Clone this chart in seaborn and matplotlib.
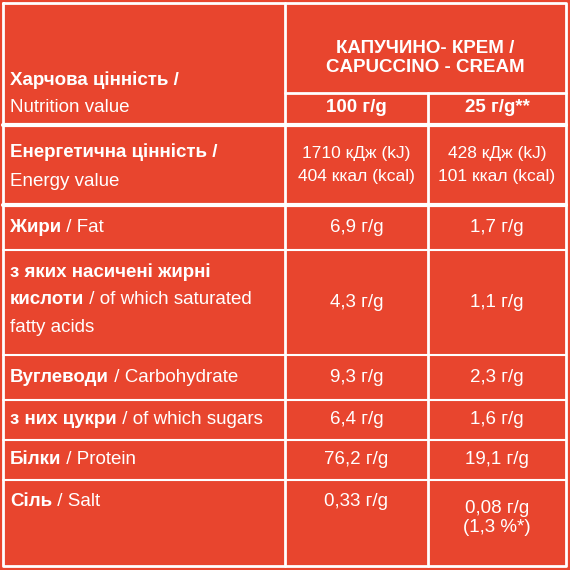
import matplotlib
matplotlib.use("Agg")
import matplotlib.pyplot as plt
import seaborn as sns

sns.set_theme(style="white")
plt.rcParams['font.family'] = ['Liberation Sans Narrow', 'Liberation Sans', 'DejaVu Sans']

product_title = ["КАПУЧИНО- КРЕМ /", "CAPUCCINO - CREAM"]
col_headers = ["100 г/g", "25 г/g**"]
header_label = ("Харчова цінність /", "Nutrition value")
row_bold = ["Енергетична цінність /", "Жири", "з яких насичені жирні\nкислоти", "Вуглеводи", "з них цукри", "Білки", "Сіль"]
row_plain = ["Energy value", " / Fat", " / of which saturated\nfatty acids", " / Carbohydrate", " / of which sugars", " / Protein", " / Salt"]
per100 = ["1710 кДж (kJ)\n404 ккал (kcal)", "6,9 г/g", "4,3 г/g", "9,3 г/g", "6,4 г/g", "76,2 г/g", "0,33 г/g"]
per25 = ["428 кДж (kJ)\n101 ккал (kcal)", "1,7 г/g", "1,1 г/g", "2,3 г/g", "1,6 г/g", "19,1 г/g", "0,08 г/g\n(1,3 %*)"]

red = "#E8452E"
fig = plt.figure(figsize=(5.7, 5.7), dpi=100)
fig.patch.set_facecolor(red)
ax = fig.add_axes([0, 0, 1, 1])
ax.set_facecolor(red)
ax.set_xlim(0, 570); ax.set_ylim(570, 0); ax.axis('off')

W = 'white'
x0, x1, x2, x3 = 3, 285, 428, 566
rows = [125, 205, 250, 355, 400, 440, 480, 566]
ax.plot([x0, x3, x3, x0, x0], [3, 3, 566, 566, 3], color=W, lw=2)
ax.plot([x1, x1], [3, 566], color=W, lw=2)
ax.plot([x2, x2], [93, 566], color=W, lw=2)
ax.plot([x1, x3], [93, 93], color=W, lw=2)
for i, y in enumerate(rows[:-1]):
    ax.plot([x0, x3], [y, y], color=W, lw=3 if i in (0, 1) else 1.5)

fs = 13.5
fsv = 13.5
def width(t):
    fig.canvas.draw()
    return t.get_window_extent().width

ax.text((x1 + x3) / 2, 58, "\n".join(product_title), color=W, fontsize=fs, fontweight='bold', ha='center', va='center', linespacing=1.1)
ax.text(10, 80, header_label[0], color=W, fontsize=fs, fontweight='bold', va='center')
ax.text(10, 108, header_label[1], color=W, fontsize=fs, va='center')
ax.text((x1 + x2) / 2, 108, col_headers[0], color=W, fontsize=fs, fontweight='bold', ha='center', va='center')
ax.text((x2 + x3) / 2, 108, col_headers[1], color=W, fontsize=fs, fontweight='bold', ha='center', va='center')

tops = rows[:-1]
bots = rows[1:]
for i in range(len(row_bold)):
    yc = (tops[i] + bots[i]) / 2
    if i == 0:
        ax.text(10, 152, row_bold[0], color=W, fontsize=fs, fontweight='bold', va='center')
        ax.text(10, 182, row_plain[0], color=W, fontsize=fs, va='center')
    elif i == 2:
        ax.text(10, 272, "з яких насичені жирні", color=W, fontsize=fs, fontweight='bold', va='center')
        t = ax.text(10, 300, "кислоти", color=W, fontsize=fs, fontweight='bold', va='center')
        ax.text(10 + width(t), 300, " / of which saturated", color=W, fontsize=fs, va='center')
        ax.text(10, 328, "fatty acids", color=W, fontsize=fs, va='center')
    else:
        yy = yc if i != 6 else 502
        t = ax.text(10, yy, row_bold[i], color=W, fontsize=fs, fontweight='bold', va='center')
        ax.text(10 + width(t), yy, row_plain[i], color=W, fontsize=fs, va='center')
    if i == 6:
        ax.text((x1 + x2) / 2, 502, per100[i], color=W, fontsize=fsv, ha='center', va='center')
        ax.text((x2 + x3) / 2, 518, per25[i], color=W, fontsize=fsv, ha='center', va='center', linespacing=1.2)
    elif i == 0:
        ax.text((x1 + x2) / 2, yc, per100[i], color=W, fontsize=12.5, ha='center', va='center', linespacing=1.6)
        ax.text((x2 + x3) / 2, yc, per25[i], color=W, fontsize=12.5, ha='center', va='center', linespacing=1.6)
    else:
        ax.text((x1 + x2) / 2, yc, per100[i], color=W, fontsize=fsv, ha='center', va='center')
        ax.text((x2 + x3) / 2, yc, per25[i], color=W, fontsize=fsv, ha='center', va='center')

fig.savefig("out.png", dpi=100, facecolor=red)
